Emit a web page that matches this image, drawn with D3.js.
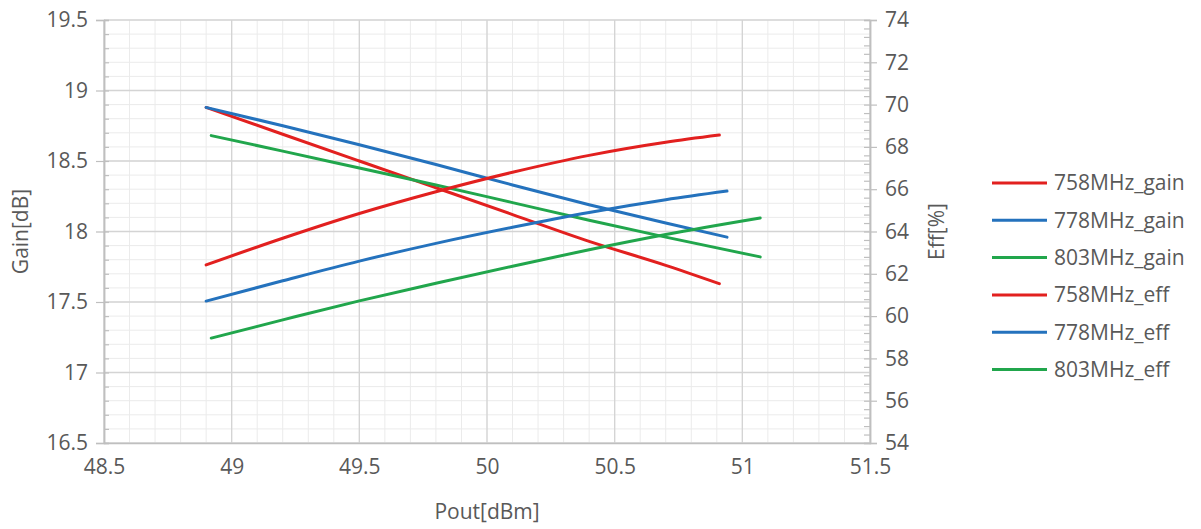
<!DOCTYPE html>
<html>
<head>
<meta charset="utf-8">
<script src="https://cdn.jsdelivr.net/npm/d3@7"></script>
<style>
  html, body { margin: 0; padding: 0; background: #fff; }
  svg { display: block; }
  text { font-family: "Open Sans", "Noto Sans", sans-serif; fill: #595959; }
</style>
</head>
<body>
<svg id="chart" width="1201" height="529"></svg>
<script>
// ---- data ----
const xTicks = [48.5, 49, 49.5, 50, 50.5, 51, 51.5];
const gainTicks = [16.5, 17, 17.5, 18, 18.5, 19, 19.5];
const effTicks = [54, 56, 58, 60, 62, 64, 66, 68, 70, 72, 74];

const pout758 = [48.90, 49.2, 49.5, 49.8, 50.1, 50.4, 50.7, 50.91];
const pout778 = [48.90, 49.2, 49.5, 49.8, 50.1, 50.4, 50.7, 50.94];
const pout803 = [48.92, 49.2, 49.5, 49.8, 50.1, 50.4, 50.7, 51.07];

const gain758 = [18.88, 18.69, 18.50, 18.31, 18.12, 17.93, 17.76, 17.63];
const gain778 = [18.88, 18.75, 18.615, 18.475, 18.33, 18.19, 18.06, 17.96];
const gain803 = [18.68, 18.57, 18.45, 18.33, 18.205, 18.08, 17.96, 17.82];

const eff758 = [62.42, 63.68, 64.85, 65.88, 66.80, 67.60, 68.22, 68.56];
const eff778 = [60.71, 61.67, 62.60, 63.44, 64.20, 64.90, 65.50, 65.91];
const eff803 = [58.96, 59.82, 60.72, 61.55, 62.36, 63.14, 63.86, 64.64];

const seriesNames = ["758MHz_gain", "778MHz_gain", "803MHz_gain", "758MHz_eff", "778MHz_eff", "803MHz_eff"];
const colors = { r: "#e2201f", b: "#2472bd", g: "#21a64c" };

const series = [
  { name: seriesNames[0], x: pout758, y: gain758, axis: "gain", color: colors.r },
  { name: seriesNames[1], x: pout778, y: gain778, axis: "gain", color: colors.b },
  { name: seriesNames[2], x: pout803, y: gain803, axis: "gain", color: colors.g },
  { name: seriesNames[3], x: pout758, y: eff758, axis: "eff", color: colors.r },
  { name: seriesNames[4], x: pout778, y: eff778, axis: "eff", color: colors.b },
  { name: seriesNames[5], x: pout803, y: eff803, axis: "eff", color: colors.g }
];

// ---- layout ----
const L = 104, R = 870, T = 20, B = 443;
const svg = d3.select("#chart");
const x = d3.scaleLinear().domain([48.5, 51.5]).range([L, R]);
const yG = d3.scaleLinear().domain([16.5, 19.5]).range([B, T]);
const yE = d3.scaleLinear().domain([54, 74]).range([B, T]);

// minor grid
const minorX = d3.range(48.5, 51.5001, 0.1).map(v => +v.toFixed(2));
const minorY = d3.range(16.5, 19.5001, 0.1).map(v => +v.toFixed(2));
const grid = svg.append("g");
grid.selectAll("line.mx").data(minorX).join("line")
  .attr("x1", d => x(d)).attr("x2", d => x(d)).attr("y1", T).attr("y2", B)
  .attr("stroke", "#ebebeb").attr("stroke-width", 1);
grid.selectAll("line.my").data(minorY).join("line")
  .attr("y1", d => yG(d)).attr("y2", d => yG(d)).attr("x1", L).attr("x2", R)
  .attr("stroke", "#ebebeb").attr("stroke-width", 1);
// major grid
grid.selectAll("line.Mx").data(xTicks).join("line")
  .attr("x1", d => x(d)).attr("x2", d => x(d)).attr("y1", T).attr("y2", B)
  .attr("stroke", "#d4d4d4").attr("stroke-width", 1.3);
grid.selectAll("line.My").data(gainTicks).join("line")
  .attr("y1", d => yG(d)).attr("y2", d => yG(d)).attr("x1", L).attr("x2", R)
  .attr("stroke", "#d4d4d4").attr("stroke-width", 1.3);

// axes
const fs = "21px";
const axL = svg.append("g").attr("transform", `translate(${L},0)`)
  .call(d3.axisLeft(yG).tickValues(gainTicks).tickSize(8).tickPadding(8).tickFormat(d3.format("")));
const axLm = svg.append("g").attr("transform", `translate(${L},0)`)
  .call(d3.axisRight(yG).tickValues(minorY).tickSize(5).tickFormat(""));
const axR = svg.append("g").attr("transform", `translate(${R},0)`)
  .call(d3.axisRight(yE).tickValues(effTicks).tickSize(7).tickPadding(8).tickFormat(d3.format("")));
const minorE = d3.range(54, 74.001, 0.4).map(v => +v.toFixed(2));
const axRm = svg.append("g").attr("transform", `translate(${R},0)`)
  .call(d3.axisLeft(yE).tickValues(minorE).tickSize(6).tickFormat(""));
const axB = svg.append("g").attr("transform", `translate(0,${B})`)
  .call(d3.axisBottom(x).tickValues(xTicks).tickSize(0).tickPadding(16).tickFormat(d3.format("")));

[axL, axLm, axR, axRm, axB].forEach(a => {
  a.selectAll("path.domain").attr("stroke", "#bfbfbf").attr("stroke-width", 1.5);
  a.selectAll(".tick line").attr("stroke", "#bfbfbf").attr("stroke-width", 1.2);
  a.selectAll(".tick text").style("font-size", fs).attr("fill", "#595959")
    .style("font-family", '"Open Sans", sans-serif');
});
axB.selectAll(".tick text").attr("dy", "0.71em");

// axis titles
svg.append("text").attr("transform", `translate(28,${(T + B) / 2}) rotate(-90)`)
  .attr("text-anchor", "middle").style("font-size", fs).text("Gain[dB]");
svg.append("text").attr("transform", `translate(944,${(T + B) / 2}) rotate(-90)`)
  .attr("text-anchor", "middle").style("font-size", fs).text("Eff[%]");
svg.append("text").attr("x", x(50)).attr("y", 519)
  .attr("text-anchor", "middle").style("font-size", fs).text("Pout[dBm]");

// lines
const plot = svg.append("g");
series.forEach(s => {
  const ys = s.axis === "gain" ? yG : yE;
  const pts = s.x.map((v, i) => [v, s.y[i]]);
  plot.append("path").datum(pts)
    .attr("fill", "none").attr("stroke", s.color).attr("stroke-width", 3)
    .attr("stroke-linecap", "round")
    .attr("d", d3.line().x(d => x(d[0])).y(d => ys(d[1])).curve(d3.curveMonotoneX));
});

// legend
const leg = svg.append("g");
series.forEach((s, i) => {
  const yy = 183 + i * 37.3;
  leg.append("line").attr("x1", 992).attr("x2", 1047).attr("y1", yy).attr("y2", yy)
    .attr("stroke", s.color).attr("stroke-width", 3);
  leg.append("text").attr("x", 1054).attr("y", yy).attr("dy", "0.35em")
    .style("font-size", fs).text(s.name);
});
</script>
</body>
</html>
